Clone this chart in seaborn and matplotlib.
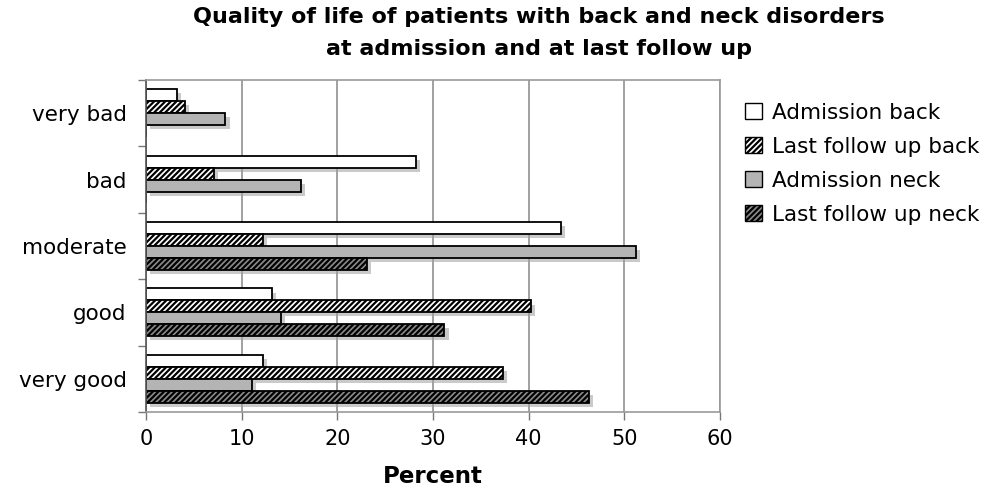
import matplotlib
matplotlib.use("Agg")
import matplotlib.pyplot as plt
import matplotlib.patheffects as pe
from matplotlib.patches import Patch
import seaborn as sns
import pandas as pd

# Veriler (grafikten okunan yüzde değerleri)
kategoriler = ["very bad", "bad", "moderate", "good", "very good"]
gruplar = ["Admission back", "Last follow up back", "Admission neck", "Last follow up neck"]
admission_back = [3.2, 28.2, 43.4, 13.2, 12.2]
last_followup_back = [4.1, 7.1, 12.2, 40.2, 37.3]
admission_neck = [8.3, 16.2, 51.2, 14.1, 11.1]
last_followup_neck = [0, 0, 23.1, 31.2, 46.3]

renkler = ["white", "white", "#b4b4b4", "#8a8a8a"]
taramalar = ["", "//////", "", "//////"]

df = pd.DataFrame({
    "Quality": kategoriler * 4,
    "Group": [g for g in gruplar for _ in kategoriler],
    "Percent": admission_back + last_followup_back + admission_neck + last_followup_neck,
})


# gölge taramasız çizilsin
class Golge(pe.SimplePatchShadow):
    def draw_path(self, renderer, gc, tpath, affine, rgbFace):
        gc0 = renderer.new_gc()
        gc0.copy_properties(gc)
        gc0.set_hatch(None)
        super().draw_path(renderer, gc0, tpath, affine, rgbFace)


sns.set_style("white")
plt.rcParams["font.family"] = ["DejaVu Sans"]
plt.rcParams["text.color"] = "black"
plt.rcParams["xtick.color"] = "black"
plt.rcParams["ytick.color"] = "black"
plt.rcParams["axes.labelcolor"] = "black"
plt.rcParams["hatch.linewidth"] = 1.6

fig = plt.figure(figsize=(10.07, 4.88), dpi=100)
ax = fig.add_axes([0.145, 0.156, 0.570, 0.68])

sns.barplot(data=df, x="Percent", y="Quality", hue="Group", orient="h",
            order=kategoriler, hue_order=gruplar, palette=renkler,
            edgecolor="black", linewidth=1.3, width=0.72, legend=False, ax=ax)

golge = [Golge(offset=(3, -3), shadow_rgbFace="#a0a0a0", alpha=0.55), pe.Normal()]
for cont, tarama in zip(ax.containers, taramalar):
    for bar in cont:
        bar.set_hatch(tarama)
        if bar.get_width() > 0:
            bar.set_path_effects(golge)

ax.set_xlim(0, 60)
ax.set_xticks(range(0, 61, 10))
ax.set_ylim(4.5, -0.5)
ax.set_yticks(range(len(kategoriler)))
ax.set_yticklabels(kategoriler)
ax.set_yticks([i + 0.5 for i in range(-1, len(kategoriler))], minor=True)
ax.tick_params(axis="y", which="major", length=0, pad=14, labelsize=15.5)
ax.tick_params(axis="y", which="minor", length=6, width=1, color="#777777", left=True)
ax.tick_params(axis="x", length=6, width=1, color="#777777", bottom=True, labelsize=15, pad=6)
ax.xaxis.grid(True, color="#888888", linewidth=1.1)
ax.set_axisbelow(True)
for s in ["top", "right", "bottom"]:
    ax.spines[s].set_color("#999999")
    ax.spines[s].set_linewidth(1.2)
ax.spines["left"].set_color("#555555")
ax.spines["left"].set_linewidth(1.2)

ax.set_ylabel("")
ax.set_xlabel("Percent", fontsize=16.5, fontweight="bold", labelpad=12)

fig.suptitle("Quality of life of patients with back and neck disorders\nat admission and at last follow up",
             x=0.535, y=0.985, fontsize=16, fontweight="bold", linespacing=1.7)

tutamaclar = [Patch(facecolor=r, edgecolor="black", hatch=t, linewidth=1) for r, t in zip(renkler, taramalar)]
ax.legend(tutamaclar, gruplar, loc="upper left", bbox_to_anchor=(1.01, 0.99), frameon=False,
          fontsize=15.5, handlelength=0.8, handleheight=0.8, handletextpad=0.45, labelspacing=0.65)

fig.savefig("out.png", dpi=100)
